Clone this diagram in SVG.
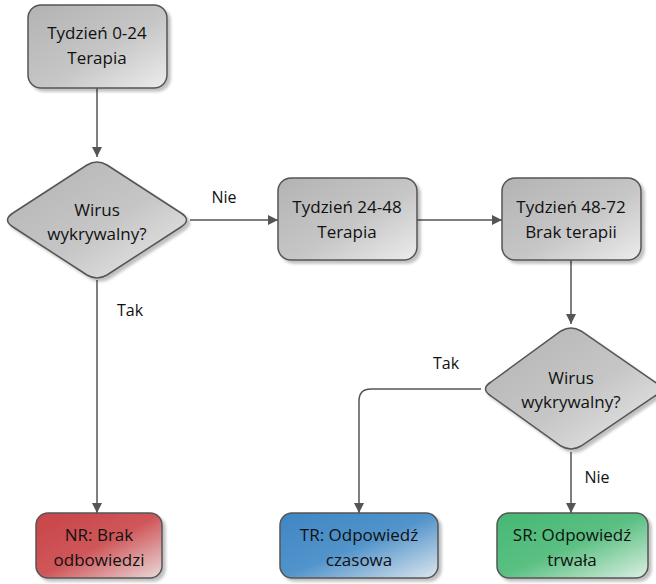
<svg xmlns="http://www.w3.org/2000/svg" width="656" height="584" viewBox="0 0 656 584">
<defs>
<linearGradient id="gGray" x1="0" y1="0" x2="1" y2="1">
<stop offset="0" stop-color="#b3b3b3"/><stop offset="0.55" stop-color="#c6c6c6"/><stop offset="1" stop-color="#ececec"/>
</linearGradient>
<linearGradient id="gRed" x1="0" y1="0" x2="1" y2="1">
<stop offset="0" stop-color="#c94548"/><stop offset="0.5" stop-color="#cf5659"/><stop offset="1" stop-color="#eadada"/>
</linearGradient>
<linearGradient id="gBlue" x1="0" y1="0" x2="1" y2="1">
<stop offset="0" stop-color="#3f86c4"/><stop offset="0.5" stop-color="#5294cb"/><stop offset="1" stop-color="#dde6ee"/>
</linearGradient>
<linearGradient id="gGreen" x1="0" y1="0" x2="1" y2="1">
<stop offset="0" stop-color="#45b873"/><stop offset="0.5" stop-color="#5bc083"/><stop offset="1" stop-color="#dcefe2"/>
</linearGradient>
<filter id="sh" x="-10%" y="-10%" width="130%" height="130%">
<feGaussianBlur in="SourceAlpha" stdDeviation="1.5"/>
<feOffset dx="3" dy="3" result="b"/>
<feComponentTransfer><feFuncA type="linear" slope="0.25"/></feComponentTransfer>
<feMerge><feMergeNode/><feMergeNode in="SourceGraphic"/></feMerge>
</filter>
<marker id="arr" viewBox="0 0 10 10" refX="10" refY="5" markerWidth="10" markerHeight="10" markerUnits="userSpaceOnUse" orient="auto">
<path d="M0,0 L10,5 L0,10 Z" fill="#555"/>
</marker>
</defs>
<style>
.box{stroke:#555;stroke-width:1.5;filter:url(#sh)}
.t{font-family:"Open Sans","Noto Sans",sans-serif;font-size:17px;fill:#111;text-anchor:middle}
.lbl{font-family:"Open Sans","Noto Sans",sans-serif;font-size:16px;fill:#111;text-anchor:middle}
.c{fill:none;stroke:#555;stroke-width:1.5}
</style>
<g id="connectors">
<path class="c" d="M97,88 V157" marker-end="url(#arr)"/>
<path class="c" d="M190,220 H278" marker-end="url(#arr)"/>
<path class="c" d="M417,220 H502" marker-end="url(#arr)"/>
<path class="c" d="M571,260 V324" marker-end="url(#arr)"/>
<path class="c" d="M97,280 V513" marker-end="url(#arr)"/>
<path class="c" d="M481,389 H371 Q359,389 359,401 V513" marker-end="url(#arr)"/>
<path class="c" d="M571,452 V513" marker-end="url(#arr)"/>
<text class="lbl" x="224" y="203">Nie</text>
<text class="lbl" x="130" y="316">Tak</text>
<text class="lbl" x="446" y="369">Tak</text>
<text class="lbl" x="597" y="483">Nie</text>
</g>
<g id="n1">
<rect class="box" x="28" y="5" width="139" height="83" rx="13" fill="url(#gGray)"/>
<text class="t" x="97" y="39">Tydzień 0-24</text>
<text class="t" x="97" y="64">Terapia</text>
</g>
<g id="d1">
<path class="box" d="M87,165 Q97,159 107,165 L181,213 Q192,220 181,227 L107,275 Q97,281 87,275 L13,227 Q2,220 13,213 Z" fill="url(#gGray)"/>
<text class="t" x="97" y="216">Wirus</text>
<text class="t" x="97" y="240">wykrywalny?</text>
</g>
<g id="n2">
<rect class="box" x="278" y="178" width="139" height="82" rx="13" fill="url(#gGray)"/>
<text class="t" x="347" y="213">Tydzień 24-48</text>
<text class="t" x="347" y="238">Terapia</text>
</g>
<g id="n3">
<rect class="box" x="502" y="178" width="139" height="82" rx="13" fill="url(#gGray)"/>
<text class="t" x="571" y="213">Tydzień 48-72</text>
<text class="t" x="571" y="238">Brak terapii</text>
</g>
<g id="d2">
<path class="box" d="M561,331 Q571,325 581,331 L655,382 Q666,389 655,396 L581,446 Q571,452 561,446 L491,396 Q480,389 491,382 Z" fill="url(#gGray)"/>
<text class="t" x="571" y="384">Wirus</text>
<text class="t" x="571" y="408">wykrywalny?</text>
</g>
<g id="nr">
<rect class="box" x="36" y="513" width="126" height="65" rx="12" fill="url(#gRed)"/>
<text class="t" x="99" y="541">NR: Brak</text>
<text class="t" x="99" y="566">odbowiedzi</text>
</g>
<g id="tr">
<rect class="box" x="280" y="513" width="158" height="65" rx="12" fill="url(#gBlue)"/>
<text class="t" x="359" y="541">TR: Odpowiedź</text>
<text class="t" x="359" y="566">czasowa</text>
</g>
<g id="sr">
<rect class="box" x="497" y="513" width="151" height="65" rx="12" fill="url(#gGreen)"/>
<text class="t" x="572" y="541">SR: Odpowiedź</text>
<text class="t" x="572" y="566">trwała</text>
</g>
</svg>
